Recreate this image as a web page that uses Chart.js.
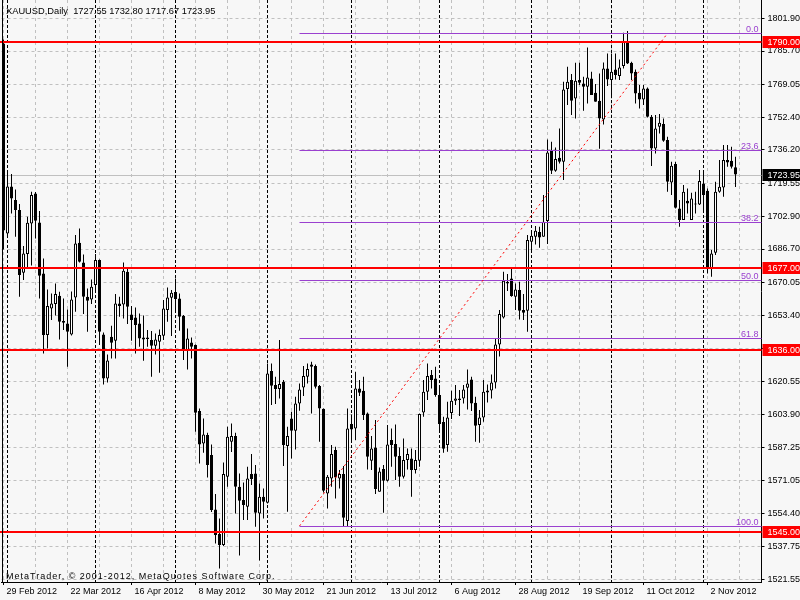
<!DOCTYPE html>
<html><head><meta charset="utf-8">
<script src="https://cdn.jsdelivr.net/npm/chart.js"></script>
<style>html,body{margin:0;padding:0;background:#f7f7f7;}canvas{display:block;}</style>
</head><body>
<canvas id="c" width="800" height="600"></canvas>
<script>
// ---------------- data ----------------
const symbolTitle = 'XAUUSD,Daily  1727.55 1732.80 1717.67 1723.95';
const copyrightText = 'MetaTrader, \u00A9 2001-2012, MetaQuotes Software Corp.';
const firstDate = '2012-02-29';
const holidays = ['2012-04-06'];
const MONTHS = ['Jan','Feb','Mar','Apr','May','Jun','Jul','Aug','Sep','Oct','Nov','Dec'];

const open = [1789.5,1694.5,1717.9,1711.2,1706.2,1674.8,1684.2,1699.5,1714.5,1700.0,
1674.5,1643.7,1657.0,1659.2,1663.3,1650.7,1649.5,1644.0,1662.5,1689.8,
1680.0,1662.8,1661.5,1668.7,1681.2,1644.0,1622.0,1642.8,1640.8,1659.5,
1659.0,1675.3,1654.0,1652.5,1649.5,1641.5,1642.5,1641.2,1638.3,1640.3,
1643.3,1656.2,1662.3,1665.2,1662.0,1653.2,1636.2,1640.0,1638.7,1605.7,
1589.5,1593.7,1583.7,1556.5,1544.2,1538.7,1572.8,1590.3,1593.2,1567.8,
1561.2,1557.8,1574.2,1574.5,1554.5,1562.8,1559.8,1625.7,1618.7,1616.7,
1620.3,1588.2,1602.0,1595.8,1609.5,1617.5,1622.8,1629.0,1628.2,1618.2,
1606.8,1564.5,1572.0,1586.2,1572.0,1574.2,1550.7,1599.2,1597.0,1617.0,
1615.8,1604.5,1580.8,1587.5,1565.3,1576.7,1570.8,1591.2,1589.2,1583.2,
1572.8,1581.2,1582.0,1576.2,1580.8,1605.0,1615.3,1623.7,1622.0,1613.7,
1600.2,1588.7,1604.7,1610.8,1612.0,1612.0,1617.3,1621.5,1609.8,1598.7,
1602.5,1615.0,1616.0,1620.0,1639.0,1652.5,1670.3,1672.0,1662.8,1666.2,
1656.2,1655.8,1690.3,1692.8,1695.2,1692.8,1700.7,1735.7,1725.8,1732.3,
1730.3,1766.7,1771.2,1762.0,1771.2,1769.5,1767.8,1772.0,1764.8,1760.8,
1751.5,1777.0,1771.2,1776.5,1773.2,1778.2,1790.3,1779.8,1775.3,1764.8,
1761.5,1767.0,1752.8,1737.0,1747.8,1749.2,1741.2,1720.0,1729.2,1707.0,
1701.2,1710.8,1701.2,1709.0,1709.0,1719.5,1715.8,1677.0,1684.8,1715.3,
1717.5,1731.2,1730.8,1727.55];
const high = [1791.5,1726.2,1724.2,1716.5,1709.2,1688.2,1702.8,1715.3,1715.2,1705.7,
1682.0,1666.5,1664.5,1669.5,1665.3,1662.0,1656.5,1665.5,1693.7,1697.0,
1684.0,1667.0,1671.5,1684.2,1681.5,1645.0,1634.0,1648.3,1664.2,1662.8,
1680.0,1677.0,1658.2,1657.5,1654.5,1653.5,1646.2,1645.7,1644.5,1646.5,
1661.2,1667.5,1666.2,1672.0,1664.5,1653.7,1647.0,1642.5,1639.0,1607.0,
1602.0,1594.8,1589.0,1564.2,1552.0,1580.0,1597.8,1599.5,1594.8,1574.5,
1570.0,1577.8,1584.2,1578.7,1569.5,1567.0,1629.5,1629.5,1622.8,1641.2,
1621.2,1597.8,1605.3,1612.8,1619.5,1628.2,1629.5,1630.3,1629.0,1618.7,
1607.0,1573.7,1588.7,1587.8,1576.2,1578.2,1607.0,1604.0,1625.3,1621.2,
1622.8,1605.0,1593.2,1601.2,1577.5,1578.7,1598.7,1597.0,1599.0,1587.5,
1592.0,1587.0,1587.0,1586.2,1604.5,1621.2,1629.5,1626.2,1627.8,1618.7,
1602.8,1610.3,1615.8,1618.7,1616.2,1618.7,1626.5,1622.8,1612.8,1606.2,
1621.2,1619.0,1624.0,1642.0,1656.2,1675.3,1674.2,1677.0,1669.5,1670.3,
1664.2,1693.7,1696.2,1698.2,1697.8,1713.7,1741.5,1740.3,1737.5,1747.0,
1770.3,1777.8,1774.2,1779.8,1779.8,1772.8,1787.5,1775.3,1769.2,1774.5,
1780.0,1784.5,1784.5,1784.5,1781.5,1794.8,1795.7,1780.3,1776.5,1768.7,
1768.7,1767.4,1753.7,1753.7,1754.2,1752.0,1742.8,1730.3,1730.3,1711.2,
1718.7,1717.0,1714.8,1715.3,1726.2,1725.0,1717.0,1686.2,1720.3,1731.2,
1738.7,1738.7,1737.8,1732.80];
const low = [1686.5,1693.5,1704.5,1692.8,1662.8,1671.2,1677.5,1678.5,1692.0,1662.0,
1634.5,1637.0,1651.2,1653.5,1641.5,1646.2,1627.8,1643.5,1655.3,1680.0,
1654.2,1645.3,1659.2,1666.2,1638.7,1619.0,1620.0,1632.0,1632.0,1652.8,
1652.0,1649.2,1640.8,1634.5,1637.8,1630.8,1637.8,1622.8,1634.0,1624.8,
1641.2,1650.3,1643.2,1655.3,1645.8,1631.2,1626.5,1632.0,1595.3,1579.5,
1584.8,1572.5,1555.2,1539.5,1527.0,1538.2,1567.8,1585.2,1554.5,1533.5,
1551.2,1551.2,1568.7,1547.8,1531.0,1552.0,1559.5,1608.7,1609.2,1612.0,
1578.2,1555.3,1582.0,1586.5,1605.8,1613.2,1619.5,1604.5,1617.0,1590.3,
1565.0,1557.0,1567.8,1562.0,1567.0,1548.2,1547.8,1590.0,1591.2,1613.2,
1601.2,1576.5,1576.2,1564.2,1565.3,1554.8,1570.5,1577.8,1571.2,1567.8,
1572.0,1576.5,1562.8,1574.5,1577.8,1602.8,1611.2,1617.0,1612.8,1596.2,
1584.8,1585.3,1601.7,1608.7,1603.2,1609.5,1606.5,1605.7,1590.3,1589.8,
1600.3,1610.0,1612.0,1617.0,1633.0,1652.0,1665.7,1662.8,1656.2,1651.5,
1651.2,1645.3,1685.3,1689.0,1687.3,1692.8,1689.2,1724.2,1725.3,1729.5,
1721.2,1758.7,1753.7,1752.0,1768.7,1755.8,1759.5,1763.7,1760.3,1736.8,
1749.0,1768.2,1763.2,1771.5,1771.2,1777.0,1779.2,1771.2,1759.5,1757.0,
1758.7,1752.5,1728.2,1734.5,1744.5,1740.3,1715.3,1713.7,1707.0,1697.8,
1701.2,1704.5,1701.2,1704.5,1708.7,1706.0,1674.5,1672.8,1683.7,1714.8,
1712.8,1727.8,1727.0,1717.67];
const close = [1696.0,1717.9,1712.0,1706.2,1673.7,1684.5,1699.8,1713.7,1700.8,1673.3,
1643.7,1658.2,1659.5,1664.2,1650.3,1649.8,1645.3,1661.5,1689.5,1680.3,
1662.8,1660.8,1667.8,1681.2,1645.3,1622.0,1631.0,1639.8,1659.5,1658.2,
1675.8,1657.8,1651.2,1648.7,1642.0,1642.5,1641.7,1638.3,1641.5,1643.7,
1657.0,1662.5,1664.8,1661.7,1652.8,1635.8,1642.0,1637.8,1604.8,1589.0,
1594.0,1578.7,1556.2,1543.7,1538.7,1574.2,1592.8,1593.2,1567.8,1560.8,
1558.7,1572.0,1571.7,1554.8,1562.8,1560.3,1624.5,1618.3,1616.7,1619.2,
1588.7,1593.2,1595.8,1609.5,1616.5,1623.2,1626.7,1627.8,1617.8,1607.0,
1565.8,1572.8,1584.2,1572.5,1574.2,1552.3,1597.0,1596.5,1617.0,1614.8,
1603.7,1582.8,1587.0,1566.7,1575.5,1570.8,1589.0,1588.7,1582.8,1572.8,
1581.2,1584.2,1576.2,1581.2,1604.2,1615.3,1623.2,1621.2,1613.7,1599.2,
1586.8,1602.5,1610.8,1612.0,1611.2,1616.5,1619.5,1609.5,1598.3,1602.5,
1615.3,1616.0,1620.0,1639.0,1654.2,1670.8,1669.5,1663.2,1666.5,1655.8,
1654.8,1691.2,1693.3,1695.8,1692.5,1700.3,1735.0,1725.8,1731.7,1730.3,
1766.5,1770.3,1760.8,1770.8,1769.8,1767.8,1772.5,1763.7,1760.3,1752.0,
1777.0,1771.5,1775.3,1773.7,1777.5,1790.3,1779.5,1774.5,1764.5,1761.5,
1767.0,1752.8,1737.0,1747.0,1749.8,1740.8,1720.3,1728.3,1707.3,1701.2,
1715.3,1709.5,1712.0,1709.5,1720.7,1713.7,1677.0,1684.5,1715.3,1717.8,
1731.2,1730.0,1727.8,1723.95];

const yTickValues = [1521.55,1537.75,1554.40,1571.05,1587.25,1603.90,1620.55,1636.75,1653.40,
  1670.05,1686.70,1702.90,1719.55,1736.20,1752.40,1769.05,1785.70,1801.90];
const yMin = 1520.2, yMax = 1811.2;
const supportResistance = [1790.00, 1677.00, 1636.00, 1545.00];
const lastPrice = 1723.95;
const fibAnchorLow = {index: 74, price: 1548.2};
const fibAnchorHigh = {index: 166, price: 1794.55};
const fibLevels = [0.0, 23.6, 38.2, 50.0, 61.8, 100.0];
const totalSlots = 190;   // bars + empty right margin
const labelEvery = 16, gridEvery = 8;

// ---------------- helpers ----------------
function buildDates(start, count, skip) {
  const out = []; const d = new Date(start + 'T00:00:00Z');
  while (out.length < count) {
    const wd = d.getUTCDay(); const iso = d.toISOString().slice(0, 10);
    if (wd !== 0 && wd !== 6 && !skip.includes(iso)) out.push(new Date(d.getTime()));
    d.setUTCDate(d.getUTCDate() + 1);
  }
  return out;
}
const dates = buildDates(firstDate, totalSlots, holidays);
const labels = dates.map(d => d.getUTCDate() + ' ' + MONTHS[d.getUTCMonth()] + ' ' + d.getUTCFullYear());
const monthStarts = [];
for (let i = 1; i < open.length; i++) if (dates[i].getUTCMonth() !== dates[i - 1].getUTCMonth()) monthStarts.push(i);

const FF = '"Liberation Sans", Arial, sans-serif';
const FS = 9;
const FONT = FS + 'px ' + FF;

const BG = '#f7f7f7', GRID = '#c0c0c0', FIB = '#9a40cf', RED = '#ff0000';

const wicks = low.map((l, i) => [l, high[i]]);
const bodies = open.map((o, i) => [o, close[i]]);
const bodyColors = open.map((o, i) => close[i] >= o ? '#ffffff' : '#000000');

const mtPlugin = {
  id: 'mt',
  beforeDraw(chart) {
    const {ctx, width, height} = chart;
    ctx.save(); ctx.fillStyle = BG; ctx.fillRect(0, 0, width, height); ctx.restore();
  },
  beforeDatasetsDraw(chart) {
    const {ctx, chartArea: a, scales: {x, y}} = chart;
    ctx.save();
    const py = Math.round(y.getPixelForValue(lastPrice)) + 0.5;
    ctx.strokeStyle = GRID; ctx.lineWidth = 1;
    ctx.beginPath(); ctx.moveTo(a.left, py); ctx.lineTo(a.right, py); ctx.stroke();
    ctx.strokeStyle = '#000'; ctx.setLineDash([3, 2]);
    monthStarts.forEach(i => {
      const px = Math.floor(x.getPixelForValue(i)) + 0.5;
      ctx.beginPath(); ctx.moveTo(px, a.top); ctx.lineTo(px, a.bottom); ctx.stroke();
    });
    ctx.restore();
  },
  afterDatasetsDraw(chart) {
    const {ctx, chartArea: a, scales: {x, y}} = chart;
    ctx.save();
    const x0 = Math.floor(x.getPixelForValue(fibAnchorLow.index)) + 0.5;
    ctx.font = FONT; ctx.textAlign = 'right'; ctx.textBaseline = 'alphabetic';
    fibLevels.forEach(l => {
      const price = fibAnchorHigh.price - (fibAnchorHigh.price - fibAnchorLow.price) * l / 100;
      const py = Math.round(y.getPixelForValue(price)) + 0.5;
      ctx.strokeStyle = FIB; ctx.lineWidth = 1;
      ctx.beginPath(); ctx.moveTo(x0, py); ctx.lineTo(a.right, py); ctx.stroke();
      ctx.fillStyle = FIB; ctx.fillText(l.toFixed(1), a.right - 3, py - 2);
    });
    ctx.strokeStyle = RED; ctx.setLineDash([2, 3]);
    ctx.beginPath();
    ctx.moveTo(x.getPixelForValue(fibAnchorLow.index), y.getPixelForValue(fibAnchorLow.price));
    ctx.lineTo(x.getPixelForValue(fibAnchorHigh.index), y.getPixelForValue(fibAnchorHigh.price));
    ctx.stroke(); ctx.setLineDash([]);
    ctx.lineWidth = 2; ctx.strokeStyle = RED;
    supportResistance.forEach(v => {
      const py = Math.round(y.getPixelForValue(v));
      ctx.beginPath(); ctx.moveTo(0, py); ctx.lineTo(a.right, py); ctx.stroke();
    });
    ctx.lineWidth = 1; ctx.strokeStyle = '#000';
    ctx.beginPath(); ctx.moveTo(2.5, 0); ctx.lineTo(2.5, a.bottom); ctx.stroke();
    ctx.restore();
  },
  afterDraw(chart) {
    const {ctx, chartArea: a, scales: {y}, width} = chart;
    ctx.save();
    ctx.font = FONT; ctx.textBaseline = 'middle'; ctx.textAlign = 'left';
    const box = (v, bg) => {
      const py = Math.round(y.getPixelForValue(v));
      ctx.fillStyle = bg; ctx.fillRect(a.right + 1, py - 6, width - a.right - 1, 12);
      ctx.fillStyle = '#fff'; ctx.fillText(v.toFixed(2), a.right + 6, py + 0.5);
    };
    supportResistance.forEach(v => box(v, RED));
    box(lastPrice, '#000');
    ctx.fillStyle = '#000'; ctx.textBaseline = 'alphabetic';
    ctx.font = '9.3px ' + FF;
    ctx.fillText(symbolTitle, 6, 14);
    ctx.font = FONT;
    try { ctx.letterSpacing = '1px'; } catch (e) {}
    ctx.fillText(copyrightText, 6, 579);
    try { ctx.letterSpacing = '0px'; } catch (e) {}
    ctx.restore();
  }
};

new Chart(document.getElementById('c'), {
  type: 'bar',
  data: {
    labels: labels,
    datasets: [
      {label: 'body', data: bodies, backgroundColor: bodyColors, borderColor: '#000', borderWidth: 1,
       borderSkipped: false, barThickness: 3, minBarLength: 1, grouped: false, order: 1, inflateAmount: 0},
      {label: 'wick', data: wicks, backgroundColor: '#000', borderWidth: 0,
       barThickness: 1, grouped: false, order: 2, inflateAmount: 0}
    ]
  },
  options: {
    responsive: false, animation: false, devicePixelRatio: 1,
    layout: {padding: {left: 1.5, right: 0, top: 0, bottom: 0}},
    plugins: {legend: {display: false}, tooltip: {enabled: false}},
    scales: {
      x: {
        type: 'category', offset: true,
        grid: {offset: false, drawOnChartArea: true, tickLength: 3,
          color: c => (c.index % gridEvery === 0 ? GRID : 'rgba(0,0,0,0)'),
          tickColor: c => (c.index % labelEvery === 0 ? '#000' : 'rgba(0,0,0,0)')},
        border: {display: true, color: '#000', width: 1, dash: [3, 3]},
        ticks: {autoSkip: false, maxRotation: 0, minRotation: 0, align: 'start', labelOffset: 3, padding: 1,
          color: '#000', font: {family: FF, size: FS},
          callback: function (v, i) { return i % labelEvery === 0 ? this.getLabelForValue(v) : ''; }},
        afterFit: s => { s.height = 18; s.paddingLeft = 0; s.paddingRight = 0; }
      },
      y: {
        type: 'linear', position: 'right', min: yMin, max: yMax,
        grid: {color: GRID, tickLength: 3, tickColor: '#000'},
        border: {display: true, color: '#000', width: 1, dash: [3, 3]},
        ticks: {autoSkip: false, padding: 3, color: '#000', font: {family: FF, size: FS},
          callback: v => Number(v).toFixed(2)},
        afterBuildTicks: s => { s.ticks = yTickValues.map(v => ({value: v})); },
        afterFit: s => { s.width = 38.5; s.paddingTop = 0; s.paddingBottom = 0; }
      }
    }
  },
  plugins: [mtPlugin]
});
</script>
</body></html>
